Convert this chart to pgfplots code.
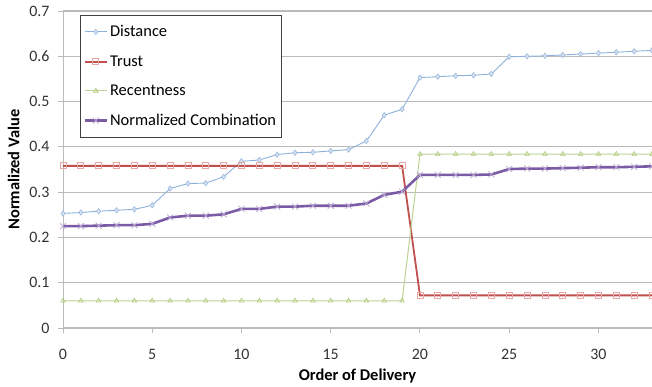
\documentclass[border=0pt]{standalone}
\usepackage{pgfplots}
\pgfplotsset{compat=1.18}
\usepackage{fontspec}
\setmainfont{Carlito}
\definecolor{cdist}{HTML}{8EB0DC}
\definecolor{cdistm}{HTML}{9BB9DE}
\definecolor{ctrust}{HTML}{C0504D}
\definecolor{ctrustm}{HTML}{E8A8A6}
\definecolor{crec}{HTML}{BDD393}
\definecolor{crecm}{HTML}{A9C76E}
\definecolor{ccomb}{HTML}{7B5BA5}
\definecolor{ccombm}{HTML}{B9A8D2}
\definecolor{cgrid}{HTML}{BBBBBB}
\begin{document}
\begin{tikzpicture}
\begin{axis}[
  scale only axis,
  width=589bp, height=317bp,
  xmin=0, xmax=33, ymin=0, ymax=0.7,
  xtick={0,5,...,30},
  ytick={0,0.1,...,0.7},
  yticklabels={0,0.1,0.2,0.3,0.4,0.5,0.6,0.7},
  axis x line*=bottom, axis y line*=left,
  axis line style={cgrid, line width=1pt},
  x axis line style={-}, y axis line style={-},
  ymajorgrids, grid style={cgrid, line width=1.1pt},
  tick style={cgrid, line width=1pt},
  tick align=outside, major tick length=5bp,
  ticklabel style={font=\fontsize{16}{19}\selectfont, text=black!80},
  /pgf/number format/assume math mode=true,
  xticklabel style={yshift=-13bp},
  yticklabel style={xshift=-5bp},
  xlabel={\textbf{Order of Delivery}},
  ylabel={\textbf{Normalized Value}},
  label style={font=\fontsize{16.5}{19}\selectfont},
  xlabel style={yshift=-2bp},
  ylabel style={yshift=3bp},
  clip=false,
  legend cell align=left,
  legend style={at={(axis description cs:0.029,0.987)}, anchor=north west,
    draw=black!75, line width=0.8pt, font=\fontsize{16.5}{19}\selectfont,
    row sep=13.3bp, inner xsep=3bp, inner ysep=8bp},
  legend image code/.code={\draw[mark repeat=2,mark phase=2] plot coordinates {(0bp,0bp) (11bp,0bp) (22bp,0bp)};},
]
\addplot[color=cdist, line width=0.9pt, mark=diamond*, mark size=2.7bp,
  mark options={fill=cdistm!40, draw=cdistm, line width=0.6pt}] coordinates {
(0,0.253)(1,0.255)(2,0.258)(3,0.260)(4,0.262)(5,0.271)(6,0.308)(7,0.319)(8,0.320)(9,0.334)
(10,0.368)(11,0.371)(12,0.383)(13,0.387)(14,0.388)(15,0.391)(16,0.394)(17,0.413)(18,0.470)(19,0.483)
(20,0.553)(21,0.555)(22,0.557)(23,0.558)(24,0.561)(25,0.599)(26,0.600)(27,0.601)(28,0.603)(29,0.605)
(30,0.607)(31,0.609)(32,0.611)(33,0.613)};
\addlegendentry{Distance}
\addplot[color=ctrust, line width=1.8pt, mark=square, mark size=3bp,
  mark options={draw=ctrustm, line width=0.8pt, fill=none}] coordinates {
(0,0.358)(1,0.358)(2,0.358)(3,0.358)(4,0.358)(5,0.358)(6,0.358)(7,0.358)(8,0.358)(9,0.358)
(10,0.358)(11,0.358)(12,0.358)(13,0.358)(14,0.358)(15,0.358)(16,0.358)(17,0.358)(18,0.358)(19,0.358)
(20,0.072)(21,0.072)(22,0.072)(23,0.072)(24,0.072)(25,0.072)(26,0.072)(27,0.072)(28,0.072)(29,0.072)
(30,0.072)(31,0.072)(32,0.072)(33,0.072)};
\addlegendentry{Trust}
\addplot[color=crec, line width=1pt, mark=triangle, mark size=2.6bp,
  mark options={draw=crecm, line width=0.6pt, fill=none}] coordinates {
(0,0.060)(1,0.060)(2,0.060)(3,0.060)(4,0.060)(5,0.060)(6,0.060)(7,0.060)(8,0.060)(9,0.060)
(10,0.060)(11,0.060)(12,0.060)(13,0.060)(14,0.060)(15,0.060)(16,0.060)(17,0.060)(18,0.060)(19,0.060)
(20,0.384)(21,0.384)(22,0.384)(23,0.384)(24,0.384)(25,0.384)(26,0.384)(27,0.384)(28,0.384)(29,0.384)
(30,0.384)(31,0.384)(32,0.384)(33,0.384)};
\addlegendentry{Recentness}
\addplot[color=ccomb, line width=2.6pt, mark=x, mark size=4.2bp,
  mark options={draw=ccombm, line width=0.8pt}] coordinates {
(0,0.225)(1,0.225)(2,0.226)(3,0.227)(4,0.227)(5,0.230)(6,0.244)(7,0.248)(8,0.248)(9,0.251)
(10,0.263)(11,0.263)(12,0.268)(13,0.268)(14,0.270)(15,0.270)(16,0.270)(17,0.275)(18,0.294)(19,0.301)
(20,0.338)(21,0.338)(22,0.338)(23,0.338)(24,0.339)(25,0.351)(26,0.352)(27,0.352)(28,0.353)(29,0.354)
(30,0.355)(31,0.355)(32,0.356)(33,0.357)};
\addlegendentry{Normalized Combination}
\end{axis}
\pgfresetboundingbox
\path[use as bounding box] (-63bp,-59bp) rectangle (589bp,328bp);
\end{tikzpicture}
\end{document}
